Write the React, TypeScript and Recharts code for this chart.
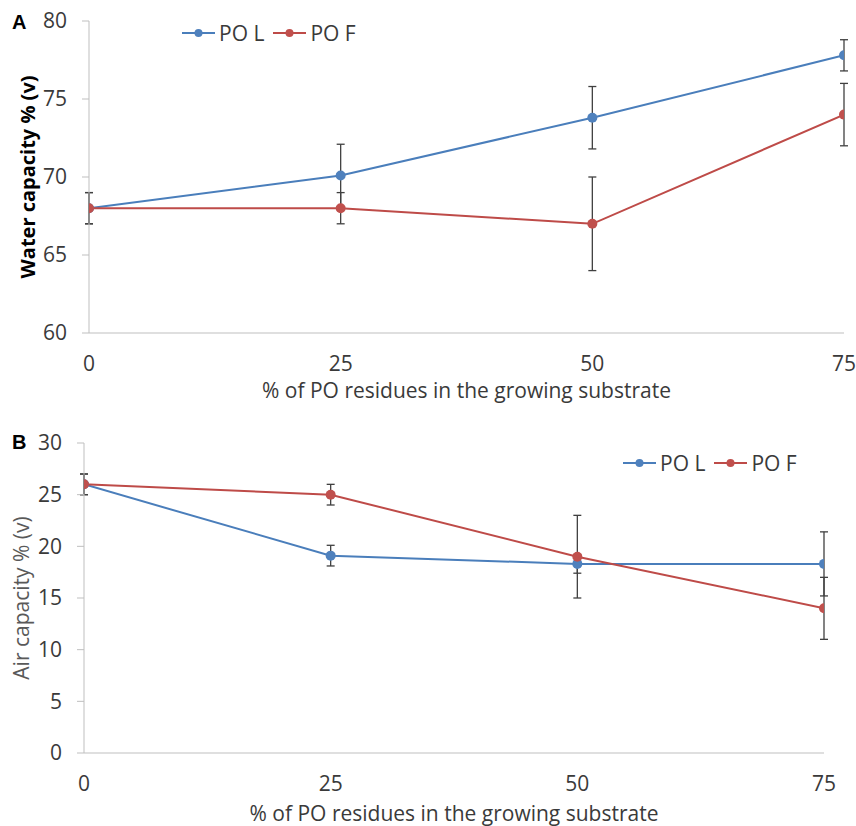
import React from 'react';
import { LineChart, Line, XAxis, YAxis, ErrorBar, Legend } from 'recharts';

const xValues = [0, 25, 50, 75];
const xTicks = [0, 25, 50, 75];
const waterTicks = [60, 65, 70, 75, 80];
const airTicks = [0, 5, 10, 15, 20, 25, 30];

const waterPOL = [68, 70.1, 73.8, 77.8];
const waterPOLErr = [1, 2, 2, 1];
const waterPOF = [68, 68, 67, 74];
const waterPOFErr = [1, 1, 3, 2];

const airPOL = [26, 19.1, 18.3, 18.3];
const airPOLErr = [1, 1, 0.9, 3.1];
const airPOF = [26, 25, 19, 14];
const airPOFErr = [1, 1, 4, 3];

const seriesNames = ['PO L', 'PO F'];
const seriesOrder = ['pol', 'pof'];

const waterData = xValues.map((x, i) => ({
  x,
  pol: waterPOL[i],
  polErr: waterPOLErr[i],
  pof: waterPOF[i],
  pofErr: waterPOFErr[i],
}));

const airData = xValues.map((x, i) => ({
  x,
  pol: airPOL[i],
  polErr: airPOLErr[i],
  pof: airPOF[i],
  pofErr: airPOFErr[i],
}));

const FONT = '"Open Sans", "Noto Sans", sans-serif';
const TEXT = '#3a3a3a';
const AXIS = '#BFBFBF';
const LINE_BLUE = '#4A7EBB';
const DOT_BLUE = '#4F81BD';
const LINE_RED = '#BE4B48';
const DOT_RED = '#C0504D';
const ERR = '#404040';

const markerColors: Record<string, string> = { pol: DOT_BLUE, pof: DOT_RED };

const LegendContent = (props: any) => {
  const payload = [...(props.payload || [])].sort(
    (a: any, b: any) => seriesOrder.indexOf(a.dataKey) - seriesOrder.indexOf(b.dataKey)
  );
  return (
    <div
      style={{
        display: 'flex',
        alignItems: 'center',
        fontFamily: FONT,
        fontSize: 21,
        lineHeight: '24px',
        color: TEXT,
        whiteSpace: 'nowrap',
      }}
    >
      {payload.map((p: any, i: number) => (
        <div key={i} style={{ display: 'flex', alignItems: 'center', marginRight: 9 }}>
          <svg width={33} height={12} style={{ display: 'block' }}>
            <line x1={0} y1={6} x2={33} y2={6} stroke={p.color} strokeWidth={2} />
            <circle cx={16.5} cy={6} r={4} fill={markerColors[p.dataKey] || p.color} />
          </svg>
          <span style={{ marginLeft: 4 }}>{p.value}</span>
        </div>
      ))}
    </div>
  );
};

const tickStyle = { fontFamily: FONT, fontSize: 21, fill: TEXT };

export default function App() {
  return (
    <div style={{ position: 'absolute', left: 0, top: 0, width: 856, height: 826, background: '#fff' }}>
      <div
        style={{
          position: 'absolute',
          left: 12,
          top: 12,
          fontFamily: '"Liberation Sans", Arial, sans-serif',
          fontWeight: 'bold',
          fontSize: 20,
          lineHeight: '20px',
          color: '#000',
        }}
      >
        A
      </div>
      <div
        style={{
          position: 'absolute',
          left: 12,
          top: 432,
          fontFamily: '"Liberation Sans", Arial, sans-serif',
          fontWeight: 'bold',
          fontSize: 20,
          lineHeight: '20px',
          color: '#000',
        }}
      >
        B
      </div>

      <div style={{ position: 'absolute', left: 0, top: 0 }}>
        <LineChart width={856} height={410} data={waterData} margin={{ top: 21, right: 12, bottom: 0, left: 0 }}>
          <XAxis
            dataKey="x"
            type="number"
            domain={[0, 75]}
            ticks={xTicks}
            allowDataOverflow
            height={77}
            stroke={AXIS}
            tickLine={false}
            tickSize={0}
            tickMargin={23}
            tick={tickStyle}
            label={{
              value: '% of PO residues in the growing substrate',
              position: 'insideBottom',
              offset: 12,
              style: { fontFamily: FONT, fontSize: 21, fill: TEXT, textAnchor: 'middle' },
            }}
          />
          <YAxis
            type="number"
            domain={[60, 80]}
            ticks={waterTicks}
            width={89}
            stroke={AXIS}
            tickSize={7}
            tickMargin={15}
            tick={tickStyle}
            label={{
              value: 'Water capacity % (v)',
              angle: -90,
              position: 'insideLeft',
              offset: 28,
              style: { fontFamily: FONT, fontSize: 20, fontWeight: 'bold', fill: '#000', textAnchor: 'middle' },
            }}
          />
          <Legend
            content={LegendContent}
            layout="horizontal"
            verticalAlign="middle"
            align="center"
            wrapperStyle={{ left: 182, top: 21, width: 'auto' }}
          />
          <Line
            dataKey="pol"
            name={seriesNames[0]}
            stroke={LINE_BLUE}
            strokeWidth={2}
            dot={{ r: 5, fill: DOT_BLUE, stroke: DOT_BLUE, strokeWidth: 0 }}
            activeDot={false}
            isAnimationActive={false}
          >
            <ErrorBar dataKey="polErr" direction="y" width={4} stroke={ERR} strokeWidth={1.3} />
          </Line>
          <Line
            dataKey="pof"
            name={seriesNames[1]}
            stroke={LINE_RED}
            strokeWidth={2}
            dot={{ r: 5, fill: DOT_RED, stroke: DOT_RED, strokeWidth: 0 }}
            activeDot={false}
            isAnimationActive={false}
          >
            <ErrorBar dataKey="pofErr" direction="y" width={4} stroke={ERR} strokeWidth={1.3} />
          </Line>
        </LineChart>
      </div>

      <div style={{ position: 'absolute', left: 0, top: 410 }}>
        <LineChart width={856} height={416} data={airData} margin={{ top: 33, right: 32, bottom: 0, left: 0 }}>
          <XAxis
            dataKey="x"
            type="number"
            domain={[0, 75]}
            ticks={xTicks}
            allowDataOverflow
            height={73}
            stroke={AXIS}
            tickLine={false}
            tickSize={0}
            tickMargin={23}
            tick={tickStyle}
            label={{
              value: '% of PO residues in the growing substrate',
              position: 'insideBottom',
              offset: 5,
              style: { fontFamily: FONT, fontSize: 21, fill: TEXT, textAnchor: 'middle' },
            }}
          />
          <YAxis
            type="number"
            domain={[0, 30]}
            ticks={airTicks}
            width={84}
            stroke={AXIS}
            tickSize={7}
            tickMargin={15}
            tick={tickStyle}
            label={{
              value: 'Air capacity % (v)',
              angle: -90,
              position: 'insideLeft',
              offset: 22,
              style: { fontFamily: FONT, fontSize: 21, fill: '#595959', textAnchor: 'middle' },
            }}
          />
          <Legend
            content={LegendContent}
            layout="horizontal"
            verticalAlign="middle"
            align="center"
            wrapperStyle={{ left: 623, top: 41, width: 'auto' }}
          />
          <Line
            dataKey="pol"
            name={seriesNames[0]}
            stroke={LINE_BLUE}
            strokeWidth={2}
            dot={{ r: 5, fill: DOT_BLUE, stroke: DOT_BLUE, strokeWidth: 0 }}
            activeDot={false}
            isAnimationActive={false}
          >
            <ErrorBar dataKey="polErr" direction="y" width={4} stroke={ERR} strokeWidth={1.3} />
          </Line>
          <Line
            dataKey="pof"
            name={seriesNames[1]}
            stroke={LINE_RED}
            strokeWidth={2}
            dot={{ r: 5, fill: DOT_RED, stroke: DOT_RED, strokeWidth: 0 }}
            activeDot={false}
            isAnimationActive={false}
          >
            <ErrorBar dataKey="pofErr" direction="y" width={4} stroke={ERR} strokeWidth={1.3} />
          </Line>
        </LineChart>
      </div>
    </div>
  );
}
